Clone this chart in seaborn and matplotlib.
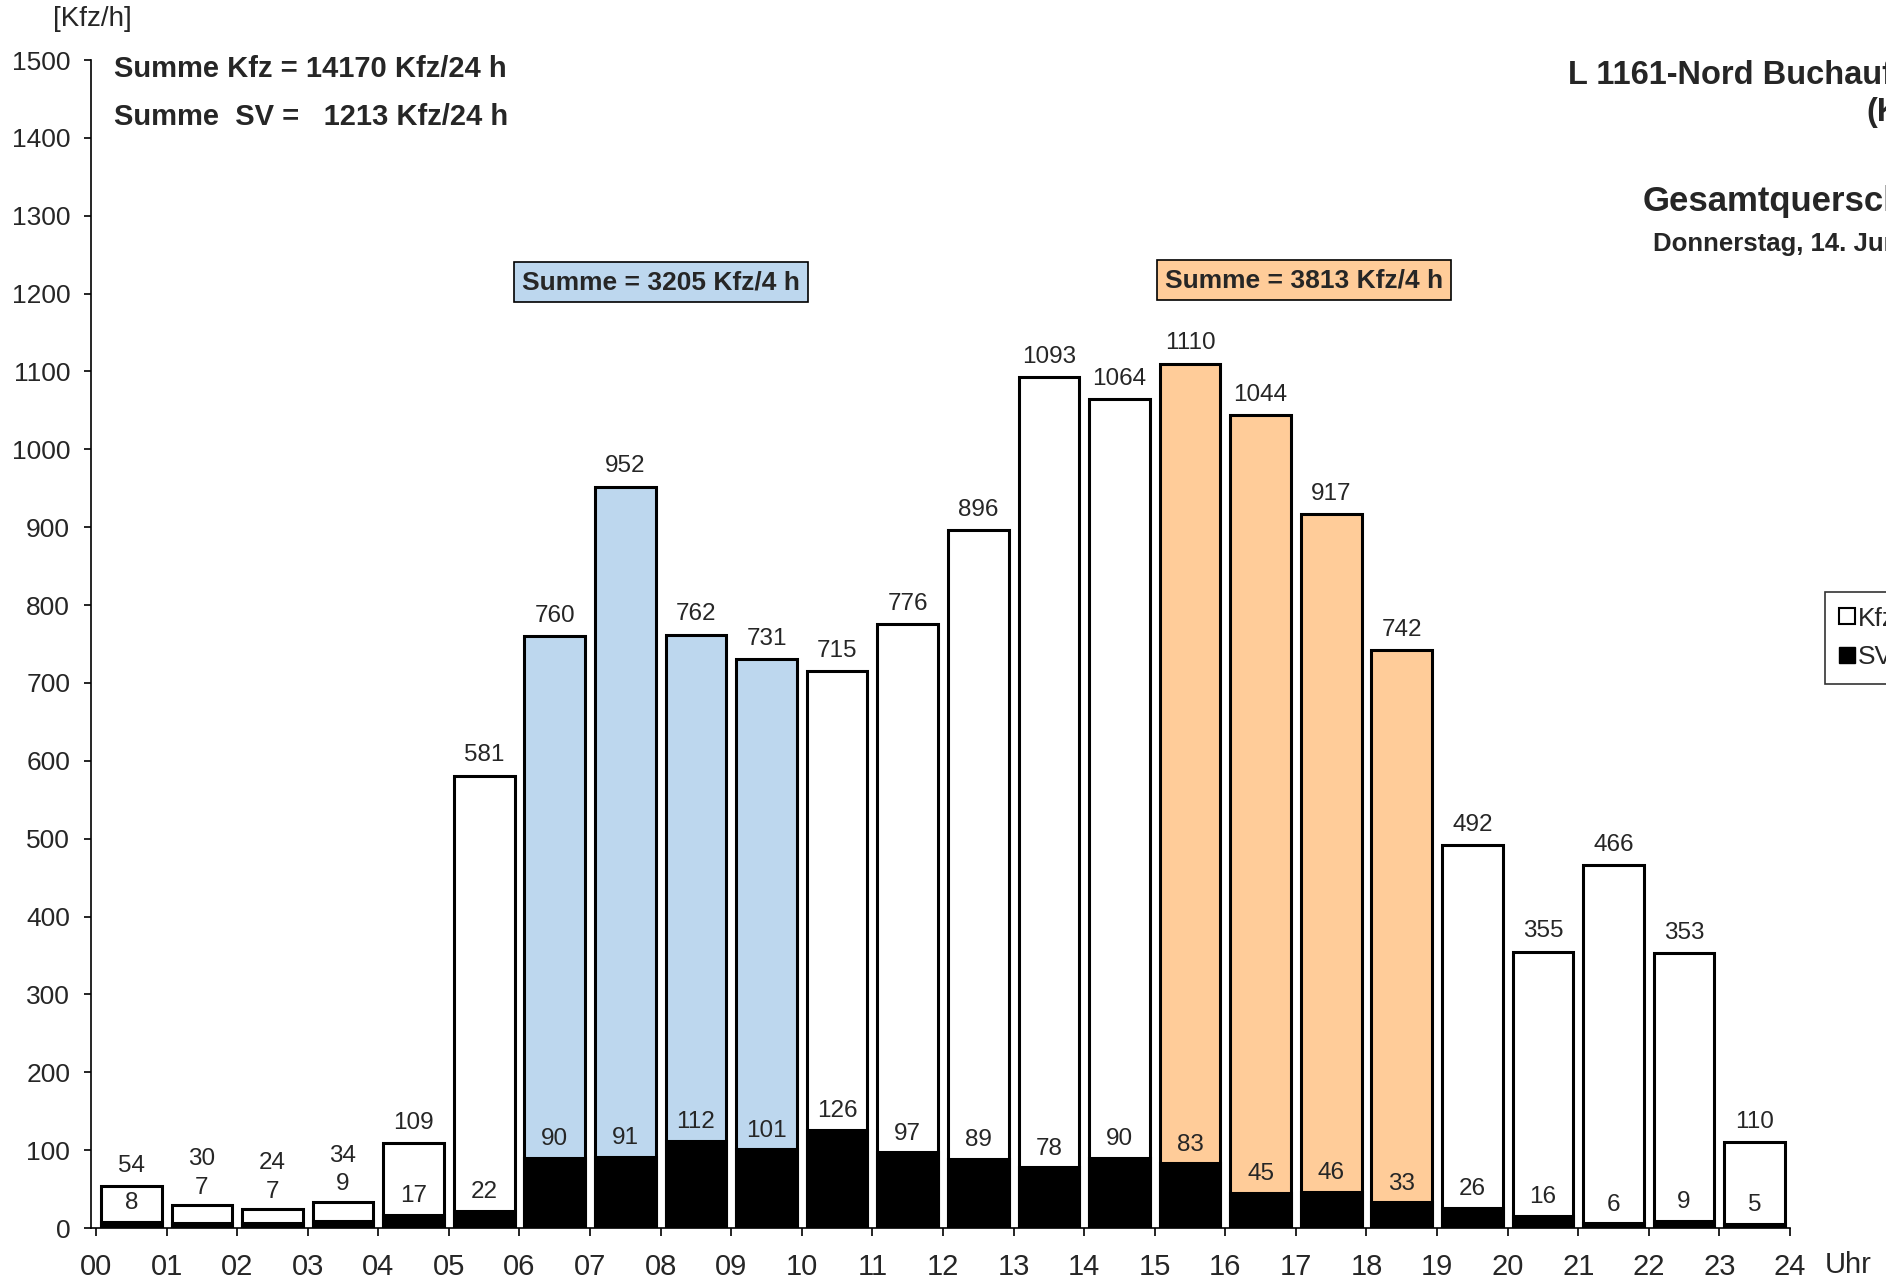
import matplotlib
matplotlib.use("Agg")
import matplotlib.pyplot as plt
from matplotlib.lines import Line2D
import seaborn as sns
import pandas as pd

# Hourly counts (Kfz = all vehicles, SV = heavy goods vehicles)
hours = [f"{h:02d}" for h in range(24)]
kfz = [54, 30, 24, 34, 109, 581, 760, 952, 762, 731, 715, 776,
       896, 1093, 1064, 1110, 1044, 917, 742, 492, 355, 466, 353, 110]
sv = [8, 7, 7, 9, 17, 22, 90, 91, 112, 101, 126, 97,
      89, 78, 90, 83, 45, 46, 33, 26, 16, 6, 9, 5]
tick_labels = [f"{h:02d}" for h in range(25)]
y_ticks = list(range(0, 1501, 100))

morning_hours = ["06", "07", "08", "09"]
evening_hours = ["15", "16", "17", "18"]
morning_sum = 3205
evening_sum = 3813
total_kfz = 14170
total_sv = 1213

period = ["früh" if h in morning_hours else "spät" if h in evening_hours else "sonst"
          for h in hours]
df = pd.DataFrame({"Stunde": hours, "Kfz": kfz, "SV": sv, "Zeitraum": period})

palette = {"früh": "#BDD7EE", "spät": "#FFCC99", "sonst": "white"}

sns.set_style("ticks")
plt.rcParams["font.family"] = ["Liberation Sans", "DejaVu Sans"]

W, H = 1886, 1282
fig = plt.figure(figsize=(W / 100, H / 100), dpi=100)
ax = fig.add_axes([91 / W, 1 - 1228 / H, (1790 - 91) / W, (1228 - 60) / H])

bar_w = 0.86
sns.barplot(data=df, x="Stunde", y="Kfz", hue="Zeitraum", palette=palette,
            order=hours, dodge=False, width=bar_w, edgecolor="black",
            linewidth=2.2, saturation=1, legend=False, ax=ax, zorder=2)
sns.barplot(data=df, x="Stunde", y="SV", color="black", order=hours,
            width=bar_w, edgecolor="black", linewidth=2.2, saturation=1,
            ax=ax, zorder=3)

# value labels: SV above the black bar, Kfz above the whole bar;
# stacked above the bar when the SV label does not fit inside it
for i, (k, s) in enumerate(zip(kfz, sv)):
    if k - s < 40:
        y_sv = k + 22
        y_k = y_sv + 37
    else:
        y_sv = s + 24
        y_k = k + 26
    ax.text(i, y_sv, str(s), ha="center", va="center", fontsize=17.5, zorder=4)
    ax.text(i, y_k, str(k), ha="center", va="center", fontsize=17.5, zorder=4)

ax.set_xlim(-0.5 - 5 / 70.6, 23.5)
ax.set_ylim(0, 1500)
ax.set_xticks([i - 0.5 for i in range(25)])
ax.set_xticklabels(tick_labels, fontsize=21)
ax.set_yticks(y_ticks)
ax.set_yticklabels([str(v) for v in y_ticks], fontsize=19)
ax.tick_params(axis="x", direction="out", length=6, width=1.2, pad=12, color="black")
ax.tick_params(axis="y", direction="out", length=5, width=1.2, pad=10, color="black")
ax.set_xlabel("")
ax.set_ylabel("")
for side in ("top", "right"):
    ax.spines[side].set_visible(False)
for side in ("left", "bottom"):
    ax.spines[side].set_linewidth(1.2)
    ax.spines[side].set_color("black")
ax.grid(False)


def px(x, y):
    return x / W, 1 - y / H


fig.text(*px(53, 19), "[Kfz/h]", fontsize=20, ha="left", va="center")
fig.text(*px(1825, 1265), "Uhr", fontsize=21, ha="left", va="center")

fig.text(*px(114, 69), f"Summe Kfz = {total_kfz} Kfz/24 h", fontsize=21,
         fontweight="bold", ha="left", va="center")
fig.text(*px(114, 117), f"Summe  SV =   {total_sv} Kfz/24 h", fontsize=21,
         fontweight="bold", ha="left", va="center")

fig.text(*px(1568, 75), "L 1161-Nord Buchauf", fontsize=23.5, fontweight="bold",
         ha="left", va="center")
fig.text(*px(1866, 112), "(K", fontsize=23.5, fontweight="bold",
         ha="left", va="center")
fig.text(*px(1643, 201), "Gesamtquerschnitt", fontsize=25, fontweight="bold",
         ha="left", va="center")
fig.text(*px(1653, 244), "Donnerstag, 14. Juni", fontsize=18.5, fontweight="bold",
         ha="left", va="center")

narrow = ["Liberation Sans Narrow", "Liberation Sans", "DejaVu Sans"]
box_kw = dict(boxstyle="square,pad=0.3", edgecolor="black", linewidth=1.2)
fig.text(*px(661, 282), f"Summe = {morning_sum} Kfz/4 h", fontsize=19,
         fontweight="bold", family=narrow, ha="center", va="center",
         bbox=dict(facecolor="#BDD7EE", **box_kw))
fig.text(*px(1304, 280), f"Summe = {evening_sum} Kfz/4 h", fontsize=19,
         fontweight="bold", family=narrow, ha="center", va="center",
         bbox=dict(facecolor="#FFCC99", **box_kw))

handles = [
    Line2D([], [], marker="s", linestyle="none", markersize=11,
           markerfacecolor="white", markeredgecolor="black", markeredgewidth=1.5),
    Line2D([], [], marker="s", linestyle="none", markersize=11,
           markerfacecolor="black", markeredgecolor="black"),
]
leg = fig.legend(handles, ["Kfz", "SV"], loc="upper left",
                 bbox_to_anchor=px(1825, 592), fontsize=19, frameon=True,
                 fancybox=False, handlelength=0.55, handletextpad=0.15,
                 borderpad=0.55, labelspacing=0.55, borderaxespad=0)
leg.get_frame().set_edgecolor("black")
leg.get_frame().set_linewidth(1.2)

fig.savefig("out.png", dpi=100)
